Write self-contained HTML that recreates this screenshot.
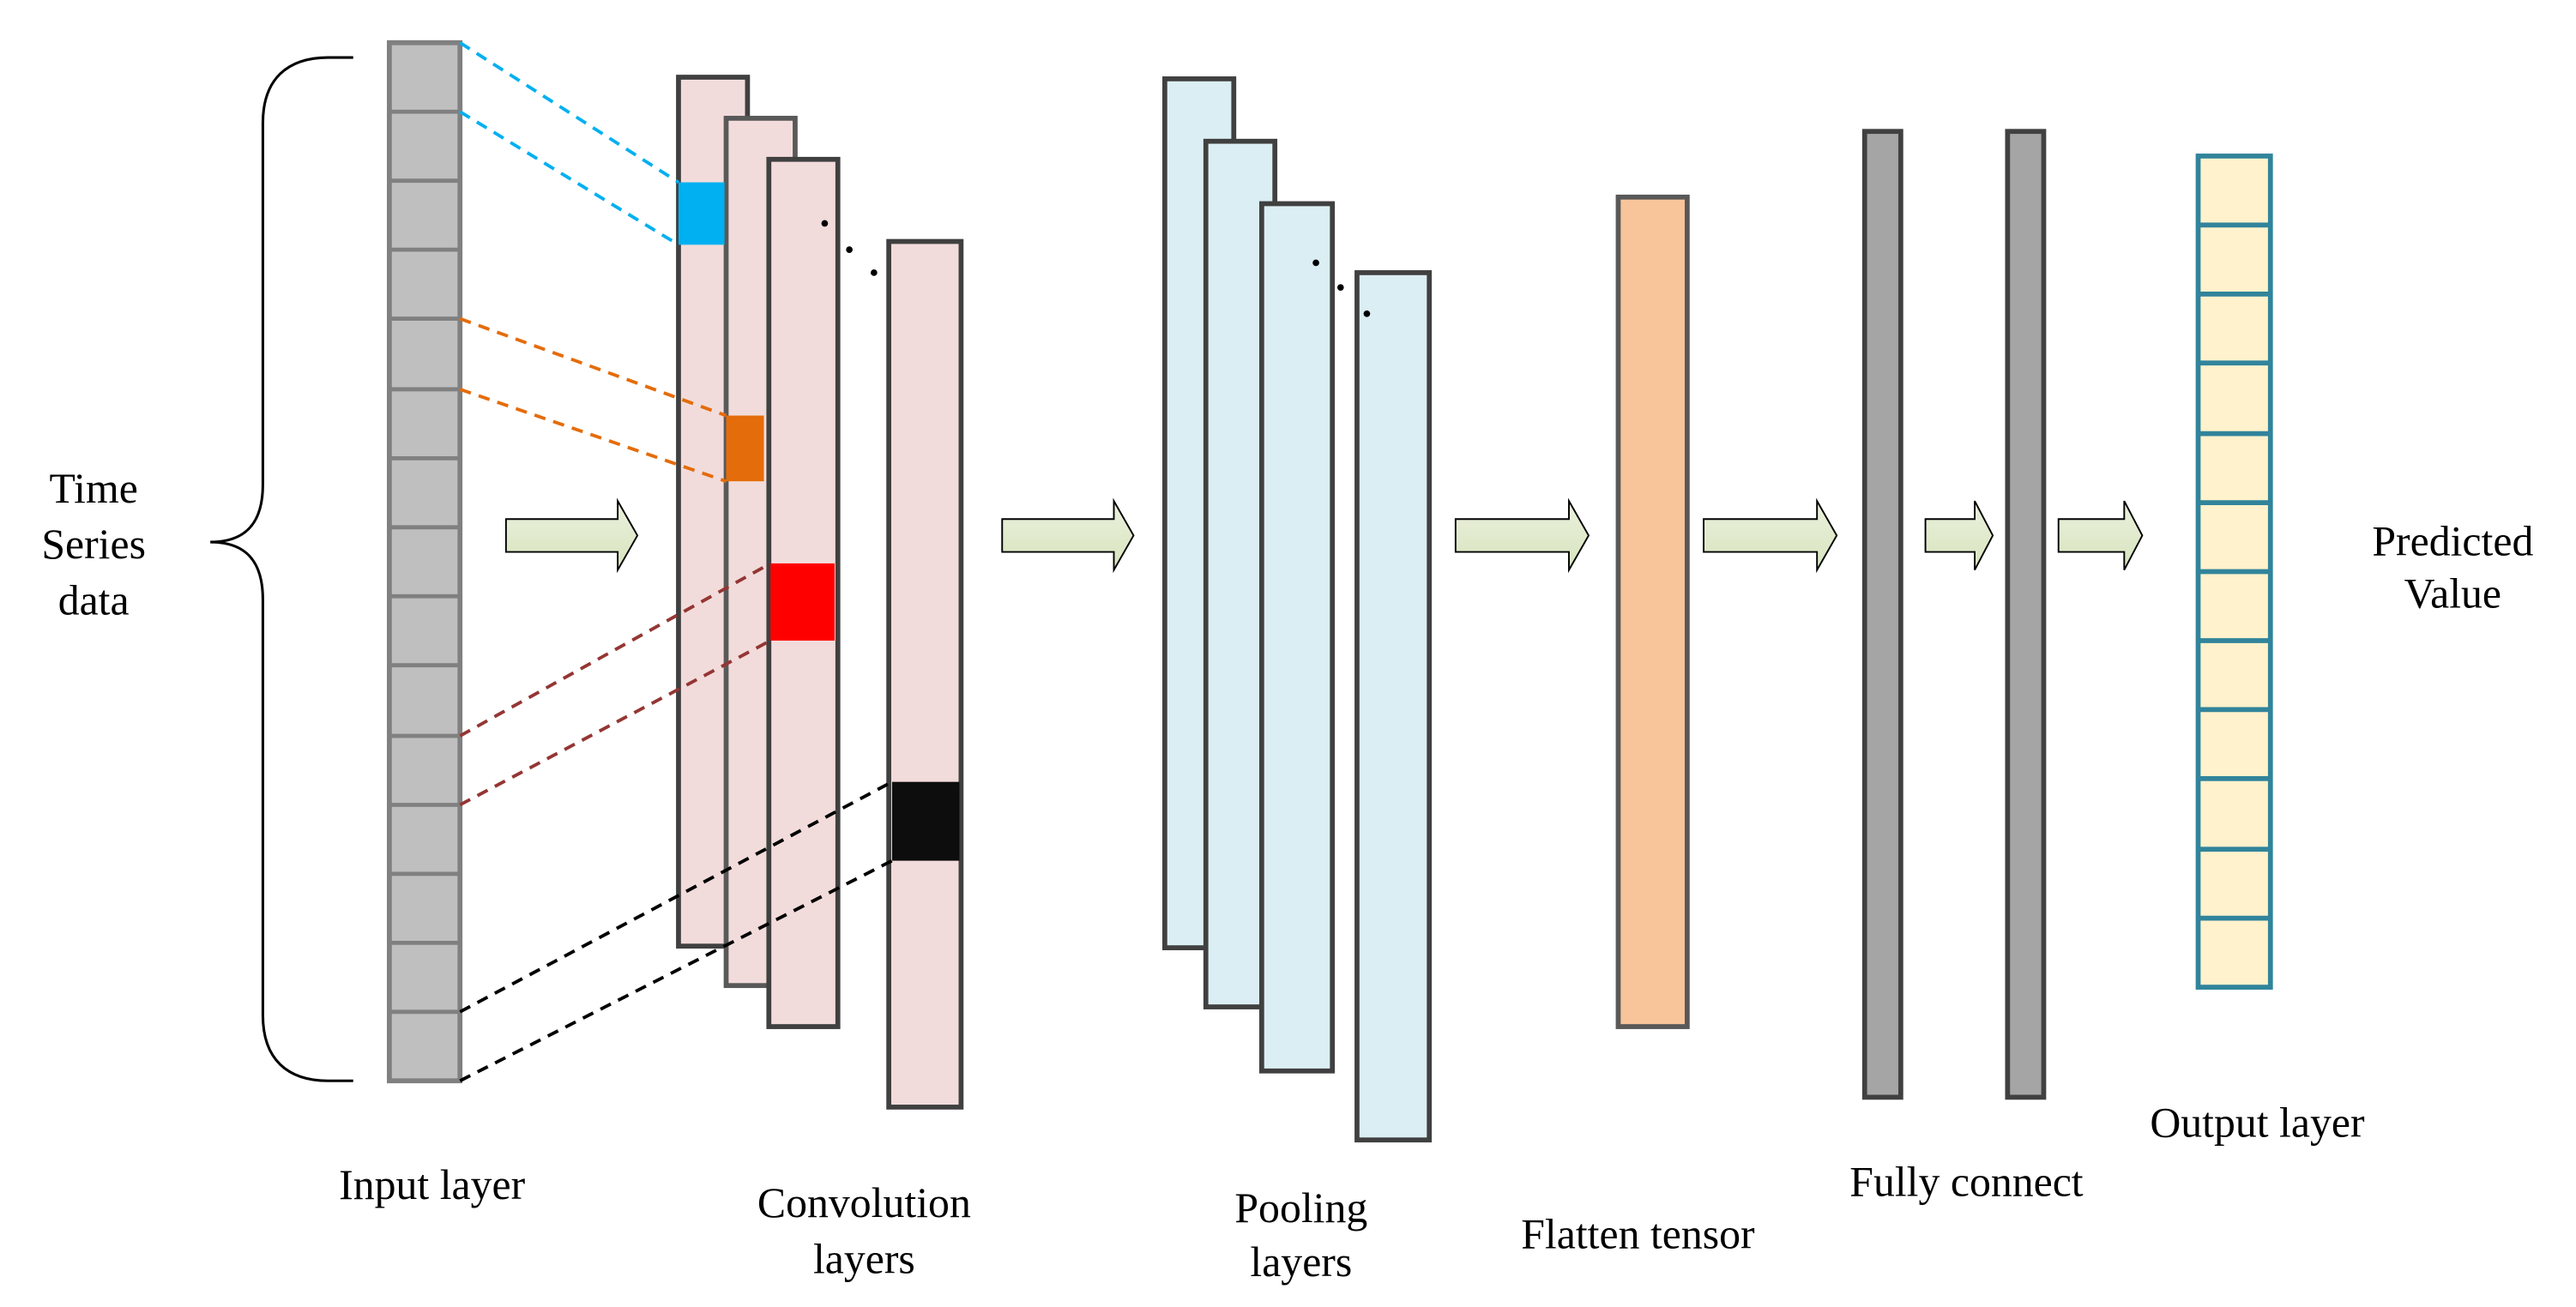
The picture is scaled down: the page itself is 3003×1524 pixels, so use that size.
<!DOCTYPE html>
<html><head><meta charset="utf-8"><style>
html,body{margin:0;padding:0;background:#fff;}
svg{display:block;}
text{font-family:"Liberation Serif",serif;font-size:26px;fill:#000;text-anchor:middle;}
</style></head><body>
<svg width="3003" height="1524" viewBox="0 0 1568 795.7" preserveAspectRatio="none" xmlns="http://www.w3.org/2000/svg">
<defs>
<linearGradient id="ag" x1="0" y1="0" x2="0" y2="1"><stop offset="0" stop-color="#ebf1de"/><stop offset="1" stop-color="#d7e4bd"/></linearGradient>
</defs>
<path d="M215,35 H200 C175,35 160,48 160,75 V295 C160,318 150,330 128,330 C150,330 160,342 160,365 V618 C160,645 175,658 200,658 H215" fill="none" stroke="#000" stroke-width="1.6"/>
<rect x="237" y="26" width="43" height="632" stroke="#808080" stroke-width="3" fill="#bfbfbf"/>
<g stroke="#808080" stroke-width="2.5">
<line x1="237" y1="68" x2="280" y2="68"/><line x1="237" y1="110" x2="280" y2="110"/><line x1="237" y1="152" x2="280" y2="152"/><line x1="237" y1="194" x2="280" y2="194"/><line x1="237" y1="237" x2="280" y2="237"/><line x1="237" y1="279" x2="280" y2="279"/><line x1="237" y1="321" x2="280" y2="321"/><line x1="237" y1="363" x2="280" y2="363"/><line x1="237" y1="405" x2="280" y2="405"/><line x1="237" y1="448" x2="280" y2="448"/><line x1="237" y1="490" x2="280" y2="490"/><line x1="237" y1="532" x2="280" y2="532"/><line x1="237" y1="574" x2="280" y2="574"/><line x1="237" y1="616" x2="280" y2="616"/>
</g>
<rect x="413" y="47" width="42" height="529" fill="#f2dcdb" stroke="#404040" stroke-width="3"/>
<rect x="442" y="72" width="42" height="528" fill="#f2dcdb" stroke="#595959" stroke-width="3"/>
<rect x="468" y="97" width="42" height="528" fill="#f2dcdb" stroke="#404040" stroke-width="3"/>
<rect x="541" y="147" width="44" height="527" fill="#f2dcdb" stroke="#404040" stroke-width="3"/>
<rect x="413" y="111" width="28" height="38" fill="#00b0f0"/>
<rect x="442" y="253" width="23" height="40" fill="#e46c0a"/>
<rect x="469" y="343" width="39" height="47" fill="#ff0000"/>
<rect x="543" y="476" width="41" height="48" fill="#0d0d0d"/>
<g stroke-width="2" stroke-dasharray="7,5" fill="none">
<line x1="280" y1="26" x2="413" y2="111" stroke="#00b0f0"/>
<line x1="280" y1="68" x2="413" y2="149" stroke="#00b0f0"/>
<line x1="280" y1="194" x2="442" y2="253" stroke="#e46c0a"/>
<line x1="280" y1="237" x2="442" y2="293" stroke="#e46c0a"/>
<line x1="280" y1="448" x2="469" y2="343" stroke="#943634"/>
<line x1="280" y1="490" x2="469" y2="390" stroke="#943634"/>
<line x1="280" y1="616" x2="543" y2="476" stroke="#000"/>
<line x1="280" y1="658" x2="543" y2="524" stroke="#000"/>
</g>
<g fill="#dbeef3" stroke="#404040" stroke-width="3">
<rect x="709" y="48" width="42" height="529"/>
<rect x="734" y="86" width="42" height="527"/>
<rect x="768" y="124" width="43" height="528"/>
<rect x="826" y="166" width="44" height="528"/>
</g>
<g fill="#000"><circle cx="502" cy="136" r="2"/><circle cx="517" cy="152" r="2"/><circle cx="532" cy="166" r="2"/>
<circle cx="801" cy="160" r="2"/><circle cx="816" cy="175" r="2"/><circle cx="832" cy="191" r="2"/></g>
<rect x="985" y="120" width="42" height="505" fill="#f8c49a" stroke="#595959" stroke-width="3"/>
<rect x="1135" y="80" width="22" height="588" fill="#a5a5a5" stroke="#404040" stroke-width="3"/>
<rect x="1222" y="80" width="22" height="588" fill="#a5a5a5" stroke="#404040" stroke-width="3"/>
<rect x="1338" y="95" width="44" height="506" fill="#fff2cc" stroke="#31849b" stroke-width="3"/>
<g stroke="#31849b" stroke-width="3">
<line x1="1338" y1="137" x2="1382" y2="137"/><line x1="1338" y1="179" x2="1382" y2="179"/><line x1="1338" y1="221" x2="1382" y2="221"/><line x1="1338" y1="264" x2="1382" y2="264"/><line x1="1338" y1="306" x2="1382" y2="306"/><line x1="1338" y1="348" x2="1382" y2="348"/><line x1="1338" y1="390" x2="1382" y2="390"/><line x1="1338" y1="432" x2="1382" y2="432"/><line x1="1338" y1="474" x2="1382" y2="474"/><line x1="1338" y1="517" x2="1382" y2="517"/><line x1="1338" y1="559" x2="1382" y2="559"/>
</g>
<g fill="url(#ag)" stroke="#000" stroke-width="1">
<path d="M308,316 H376 V305 L388,326 L376,347 V336 H308 Z"/>
<path d="M610,316 H678 V305 L690,326 L678,347 V336 H610 Z"/>
<path d="M886,316 H955 V305 L967,326 L955,347 V336 H886 Z"/>
<path d="M1037,316 H1106 V305 L1118,326 L1106,347 V336 H1037 Z"/>
<path d="M1172,316 H1202 V305 L1213,326 L1202,347 V336 H1172 Z"/>
<path d="M1253,316 H1293 V305 L1304,326 L1293,347 V336 H1253 Z"/>
</g>
<text x="57" y="306">Time</text>
<text x="57" y="340">Series</text>
<text x="57" y="374">data</text>
<text x="263" y="730">Input layer</text>
<text x="526" y="741">Convolution</text>
<text x="526" y="775">layers</text>
<text x="792" y="744">Pooling</text>
<text x="792" y="777">layers</text>
<text x="997" y="760">Flatten tensor</text>
<text x="1197" y="728">Fully connect</text>
<text x="1374" y="692">Output layer</text>
<text x="1493" y="338">Predicted</text>
<text x="1493" y="370">Value</text>
</svg>
</body></html>
